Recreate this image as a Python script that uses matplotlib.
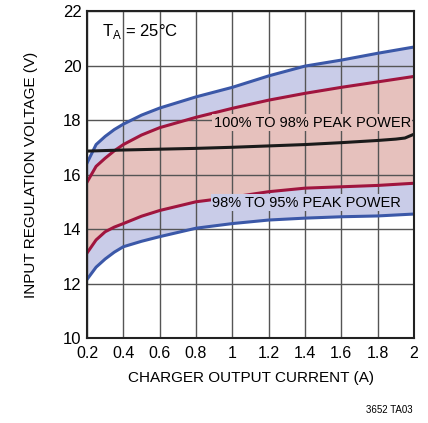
import matplotlib
matplotlib.use("Agg")
import matplotlib.pyplot as plt

plt.rcParams['font.family'] = ['Liberation Sans', 'DejaVu Sans']

# charger output current (A)
current = [0.2, 0.25, 0.3, 0.35, 0.4, 0.5, 0.6, 0.8, 1.0, 1.2, 1.4, 1.6, 1.8, 2.0]

# upper band (100% to 98% peak power)
upper_hi = [16.42, 17.1, 17.4, 17.65, 17.85, 18.18, 18.44, 18.85, 19.2, 19.62, 19.98, 20.2, 20.45, 20.68]
upper_lo = [15.72, 16.3, 16.6, 16.87, 17.1, 17.45, 17.72, 18.1, 18.43, 18.73, 18.98, 19.2, 19.4, 19.6]

# lower band (98% to 95% peak power)
lower_hi = [13.12, 13.6, 13.9, 14.07, 14.2, 14.47, 14.68, 15.0, 15.17, 15.37, 15.5, 15.55, 15.6, 15.68]
lower_lo = [12.15, 12.6, 12.9, 13.15, 13.35, 13.55, 13.72, 14.03, 14.2, 14.33, 14.4, 14.45, 14.48, 14.55]

# black curve
black_x = [0.2, 0.4, 0.6, 0.8, 1.0, 1.2, 1.4, 1.6, 1.8, 1.9, 1.95, 2.0]
black_y = [16.86, 16.9, 16.93, 16.96, 17.0, 17.05, 17.1, 17.17, 17.25, 17.3, 17.34, 17.48]

blue = '#3b58a8'
red = '#a0153e'
pink = '#e6c1bd'
lav = '#c9cce8'

fig = plt.figure(figsize=(4.28, 4.23), dpi=100)
ax = fig.add_axes([0.2033, 0.2009, 0.764, 0.773])

ax.fill_between(current, upper_lo, upper_hi, color=lav, lw=0, zorder=1)
ax.fill_between(current, lower_hi, upper_lo, color=pink, lw=0, zorder=1)
ax.fill_between(current, lower_lo, lower_hi, color=lav, lw=0, zorder=1)

ax.grid(True, color='#555555', lw=1.0, zorder=2)
ax.set_axisbelow(False)

ax.plot(current, upper_hi, color=blue, lw=2.2, zorder=4)
ax.plot(current, upper_lo, color=red, lw=2.2, zorder=4)
ax.plot(current, lower_hi, color=red, lw=2.2, zorder=4)
ax.plot(current, lower_lo, color=blue, lw=2.2, zorder=4)
ax.plot(black_x, black_y, color='#1a1a1a', lw=2.2, zorder=4)

ax.set_xlim(0.2, 2.0)
ax.set_ylim(10, 22)
ax.set_xticks([0.2, 0.4, 0.6, 0.8, 1.0, 1.2, 1.4, 1.6, 1.8, 2.0])
ax.set_xticklabels(['0.2', '0.4', '0.6', '0.8', '1', '1.2', '1.4', '1.6', '1.8', '2'])
ax.set_yticks([10, 12, 14, 16, 18, 20, 22])
ax.tick_params(length=0, labelsize=12, pad=4)
ax.tick_params(axis='x', labelsize=11.5, pad=6)
for s in ax.spines.values():
    s.set_linewidth(1.5)
    s.set_color('#222222')
    s.set_zorder(5)

ax.set_xlabel('CHARGER OUTPUT CURRENT (A)', fontsize=11, labelpad=7)
ax.set_ylabel('INPUT REGULATION VOLTAGE (V)', fontsize=11, labelpad=18)

ax.text(0.28, 21.6, r'T$_\mathregular{A}$ = 25°C', fontsize=12, va='top', ha='left', zorder=6)
ax.text(1.44, 17.9, '100% TO 98% PEAK POWER', fontsize=10.5, ha='center', va='center', zorder=6,
        bbox=dict(facecolor=pink, edgecolor='none', pad=1))
ax.text(1.41, 14.97, '98% TO 95% PEAK POWER', fontsize=10.5, ha='center', va='center', zorder=6,
        bbox=dict(facecolor=lav, edgecolor='none', pad=1))

fig.text(0.965, 0.03, '3652 TA03', fontsize=7, ha='right', va='center')

fig.savefig('out.png', dpi=100)
